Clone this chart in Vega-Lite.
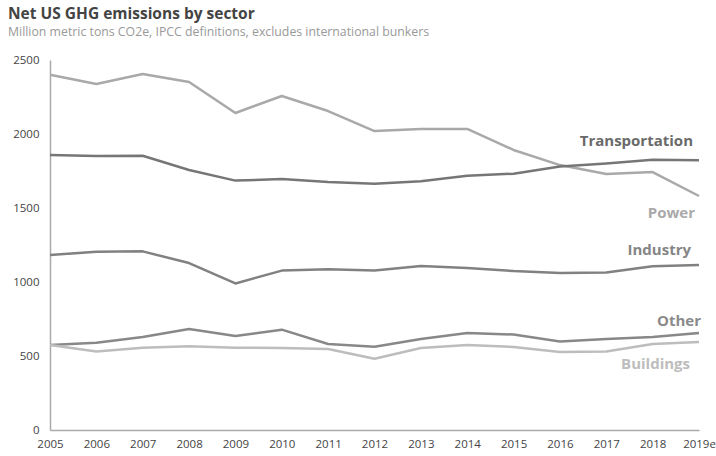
{
  "$schema": "https://vega.github.io/schema/vega-lite/v6.json",
  "autosize": {"type": "none"},
  "padding": {"left": 50, "top": 60, "right": 17, "bottom": 26},
  "width": 649,
  "height": 370,
  "background": "white",
  "config": {
    "font": "Open Sans",
    "view": {"stroke": null}
  },
  "title": {
    "text": "Net US GHG emissions by sector",
    "subtitle": "Million metric tons CO2e, IPCC definitions, excludes international bunkers",
    "anchor": "start",
    "frame": "group",
    "dx": -42,
    "offset": 16,
    "fontSize": 15.5,
    "fontWeight": "bold",
    "color": "#444444",
    "subtitleFontSize": 12.3,
    "subtitleColor": "#999999",
    "subtitlePadding": 3
  },
  "data": {
    "values": [
      {"year": "2005", "sector": "Power", "value": 2400},
      {"year": "2006", "sector": "Power", "value": 2338},
      {"year": "2007", "sector": "Power", "value": 2405},
      {"year": "2008", "sector": "Power", "value": 2351},
      {"year": "2009", "sector": "Power", "value": 2142},
      {"year": "2010", "sector": "Power", "value": 2257},
      {"year": "2011", "sector": "Power", "value": 2155},
      {"year": "2012", "sector": "Power", "value": 2020},
      {"year": "2013", "sector": "Power", "value": 2034},
      {"year": "2014", "sector": "Power", "value": 2034},
      {"year": "2015", "sector": "Power", "value": 1892},
      {"year": "2016", "sector": "Power", "value": 1790},
      {"year": "2017", "sector": "Power", "value": 1730},
      {"year": "2018", "sector": "Power", "value": 1743},
      {"year": "2019e", "sector": "Power", "value": 1581},
      {"year": "2005", "sector": "Transportation", "value": 1858},
      {"year": "2006", "sector": "Transportation", "value": 1851},
      {"year": "2007", "sector": "Transportation", "value": 1853},
      {"year": "2008", "sector": "Transportation", "value": 1757},
      {"year": "2009", "sector": "Transportation", "value": 1685},
      {"year": "2010", "sector": "Transportation", "value": 1696},
      {"year": "2011", "sector": "Transportation", "value": 1676},
      {"year": "2012", "sector": "Transportation", "value": 1664},
      {"year": "2013", "sector": "Transportation", "value": 1680},
      {"year": "2014", "sector": "Transportation", "value": 1718},
      {"year": "2015", "sector": "Transportation", "value": 1732},
      {"year": "2016", "sector": "Transportation", "value": 1780},
      {"year": "2017", "sector": "Transportation", "value": 1800},
      {"year": "2018", "sector": "Transportation", "value": 1826},
      {"year": "2019e", "sector": "Transportation", "value": 1822},
      {"year": "2005", "sector": "Industry", "value": 1182},
      {"year": "2006", "sector": "Industry", "value": 1205},
      {"year": "2007", "sector": "Industry", "value": 1207},
      {"year": "2008", "sector": "Industry", "value": 1128},
      {"year": "2009", "sector": "Industry", "value": 990},
      {"year": "2010", "sector": "Industry", "value": 1077},
      {"year": "2011", "sector": "Industry", "value": 1086},
      {"year": "2012", "sector": "Industry", "value": 1077},
      {"year": "2013", "sector": "Industry", "value": 1108},
      {"year": "2014", "sector": "Industry", "value": 1095},
      {"year": "2015", "sector": "Industry", "value": 1074},
      {"year": "2016", "sector": "Industry", "value": 1061},
      {"year": "2017", "sector": "Industry", "value": 1064},
      {"year": "2018", "sector": "Industry", "value": 1106},
      {"year": "2019e", "sector": "Industry", "value": 1115},
      {"year": "2005", "sector": "Other", "value": 574},
      {"year": "2006", "sector": "Other", "value": 590},
      {"year": "2007", "sector": "Other", "value": 628},
      {"year": "2008", "sector": "Other", "value": 682},
      {"year": "2009", "sector": "Other", "value": 635},
      {"year": "2010", "sector": "Other", "value": 678},
      {"year": "2011", "sector": "Other", "value": 581},
      {"year": "2012", "sector": "Other", "value": 563},
      {"year": "2013", "sector": "Other", "value": 615},
      {"year": "2014", "sector": "Other", "value": 655},
      {"year": "2015", "sector": "Other", "value": 645},
      {"year": "2016", "sector": "Other", "value": 598},
      {"year": "2017", "sector": "Other", "value": 615},
      {"year": "2018", "sector": "Other", "value": 628},
      {"year": "2019e", "sector": "Other", "value": 655},
      {"year": "2005", "sector": "Buildings", "value": 574},
      {"year": "2006", "sector": "Buildings", "value": 530},
      {"year": "2007", "sector": "Buildings", "value": 556},
      {"year": "2008", "sector": "Buildings", "value": 566},
      {"year": "2009", "sector": "Buildings", "value": 556},
      {"year": "2010", "sector": "Buildings", "value": 554},
      {"year": "2011", "sector": "Buildings", "value": 547},
      {"year": "2012", "sector": "Buildings", "value": 482},
      {"year": "2013", "sector": "Buildings", "value": 554},
      {"year": "2014", "sector": "Buildings", "value": 574},
      {"year": "2015", "sector": "Buildings", "value": 561},
      {"year": "2016", "sector": "Buildings", "value": 527},
      {"year": "2017", "sector": "Buildings", "value": 530},
      {"year": "2018", "sector": "Buildings", "value": 581},
      {"year": "2019e", "sector": "Buildings", "value": 595}
    ]
  },
  "encoding": {
    "x": {
      "field": "year",
      "type": "ordinal",
      "scale": {"type": "point", "padding": 0},
      "axis": {
        "title": null,
        "labelAngle": 0,
        "ticks": false,
        "labelPadding": 8,
        "labelFontSize": 11.5,
        "labelColor": "#444444",
        "domainColor": "#aaaaaa",
        "domainWidth": 1.5
      }
    },
    "y": {
      "field": "value",
      "type": "quantitative",
      "scale": {"domain": [0, 2500], "nice": false},
      "axis": {
        "title": null,
        "values": [0, 500, 1000, 1500, 2000, 2500],
        "format": "d",
        "grid": false,
        "ticks": false,
        "labelPadding": 11,
        "labelFontSize": 11.5,
        "labelColor": "#444444",
        "domainColor": "#aaaaaa",
        "domainWidth": 1.5
      }
    }
  },
  "layer": [
    {
      "mark": {"type": "line", "strokeWidth": 2.5, "strokeJoin": "round"},
      "encoding": {
        "detail": {"field": "sector"},
        "color": {
          "field": "sector",
          "type": "nominal",
          "scale": {
            "domain": ["Power", "Transportation", "Industry", "Other", "Buildings"],
            "range": ["#a9a9a9", "#767676", "#818181", "#888888", "#bdbdbd"]
          },
          "legend": null
        }
      }
    },
    {
      "transform": [{"filter": "datum.year == '2019e' && datum.sector == 'Transportation'"}],
      "mark": {"type": "text", "align": "right", "dy": -19, "dx": -6, "fontSize": 15, "fontWeight": "bold", "color": "#6a6a6a"},
      "encoding": {"text": {"field": "sector"}}
    },
    {
      "transform": [{"filter": "datum.year == '2019e' && datum.sector == 'Power'"}],
      "mark": {"type": "text", "align": "right", "dy": 17, "dx": -4, "fontSize": 15, "fontWeight": "bold", "color": "#a9a9a9"},
      "encoding": {"text": {"field": "sector"}}
    },
    {
      "transform": [{"filter": "datum.year == '2019e' && datum.sector == 'Industry'"}],
      "mark": {"type": "text", "align": "right", "dy": -15, "dx": -8, "fontSize": 15, "fontWeight": "bold", "color": "#858585"},
      "encoding": {"text": {"field": "sector"}}
    },
    {
      "transform": [{"filter": "datum.year == '2019e' && datum.sector == 'Other'"}],
      "mark": {"type": "text", "align": "right", "dy": -12, "dx": 2, "fontSize": 15, "fontWeight": "bold", "color": "#8a8a8a"},
      "encoding": {"text": {"field": "sector"}}
    },
    {
      "transform": [{"filter": "datum.year == '2019e' && datum.sector == 'Buildings'"}],
      "mark": {"type": "text", "align": "right", "dy": 22, "dx": -9, "fontSize": 15, "fontWeight": "bold", "color": "#bdbdbd"},
      "encoding": {"text": {"field": "sector"}}
    }
  ]
}
